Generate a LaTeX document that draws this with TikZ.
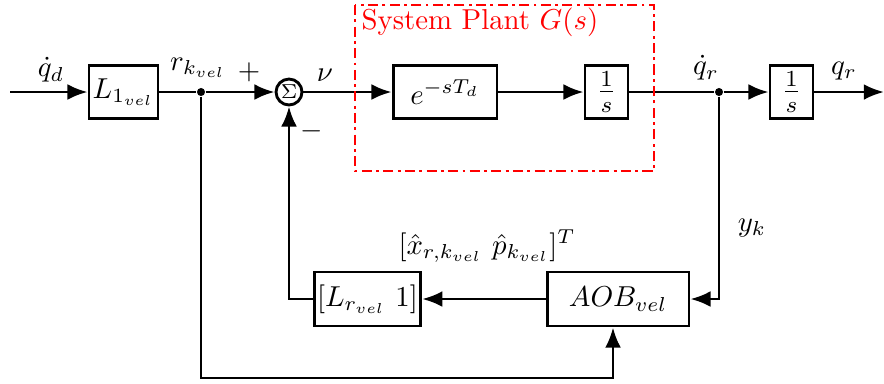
\documentclass[tikz,border=0pt]{standalone}
\usepackage{amsmath}
\usetikzlibrary{arrows.meta,positioning}

\begin{document}
\begin{tikzpicture}[
    x=0.0122cm, y=-0.0122cm,
    block/.style={draw, line width=1pt, align=center, minimum height=0.646cm, inner sep=1pt, fill=white},
    sumnode/.style={draw, line width=1pt, circle, minimum size=0.317cm, inner sep=0pt, font=\scriptsize},
    junc/.style={circle, fill, inner sep=0pt, minimum size=2.8pt},
    wire/.style={line width=1pt},
    arrow/.style={-{Latex[length=7pt,width=5.5pt]}, line width=1pt},
    plant/.style={draw=red, line width=1pt, dash pattern=on 3.5pt off 1.5pt on 1pt off 1.5pt}
  ]
    \useasboundingbox (0,0) rectangle (884,383);

    % forward path
    \coordinate (in) at (10,92);
    \node[block, minimum width=0.841cm] (L1) at (123.5,92) {$L_{1_{vel}}$};
    \node[junc] (j1) at (201,92) {};
    \node[sumnode] (sum) at (289,92) {$\Sigma$};
    \node[block, minimum width=1.268cm] (delay) at (445,92) {$e^{-sT_d}$};
    \node[block, minimum width=0.524cm] (int1) at (606.5,92) {\large$\frac{1}{s}$};
    \node[junc] (j2) at (719,92) {};
    \node[block, minimum width=0.524cm] (int2) at (791.5,92) {\large$\frac{1}{s}$};
    \coordinate (out) at (884,92);

    % observer path
    \node[block, minimum width=1.732cm, minimum height=0.659cm] (aob) at (618,299) {$AOB_{vel}$};
    \node[block, minimum width=1.28cm, minimum height=0.659cm] (lr) at (367.5,299) {$[L_{r_{vel}}\ 1]$};
    \coordinate (bot) at (613,378);

    \draw[arrow] (in) -- (L1);
    \draw[wire] (L1) -- (j1);
    \draw[arrow] (j1) -- (sum);
    \draw[arrow] (sum) -- (delay);
    \draw[arrow] (delay) -- (int1);
    \draw[wire] (int1) -- (j2);
    \draw[arrow] (j2) -- (int2);
    \draw[arrow] (int2) -- (out);
    \draw[arrow] (j2) |- (aob.east);
    \draw[arrow] (aob) -- (lr);
    \draw[arrow] (lr.west) -| (sum.south);
    \draw[arrow] (j1) |- (bot) -- (aob.south -| bot);

    % signal labels
    \node (qd) at (51,70) {$\dot{q}_d$};
    \node (rk) at (198,68) {$r_{k_{vel}}$};
    \node (plus) at (249,72) {$+$};
    \node (minus) at (312,131) {$-$};
    \node (nu) at (325,75) {$\nu$};
    \node (qrdot) at (706,68) {$\dot{q}_r$};
    \node (qr) at (844,71) {$q_r$};
    \node (yk) at (752,228) {$y_k$};
    \node (xp) at (487,246) {$[\hat{x}_{r,k_{vel}}\ \hat{p}_{k_{vel}}]^T$};

    % plant boundary
    \draw[plant] (355,5) rectangle (654,171);
    \node[red, anchor=west, inner sep=0pt] (plantlbl) at (361,22) {System Plant $G(s)$};
  \end{tikzpicture}
\end{document}
